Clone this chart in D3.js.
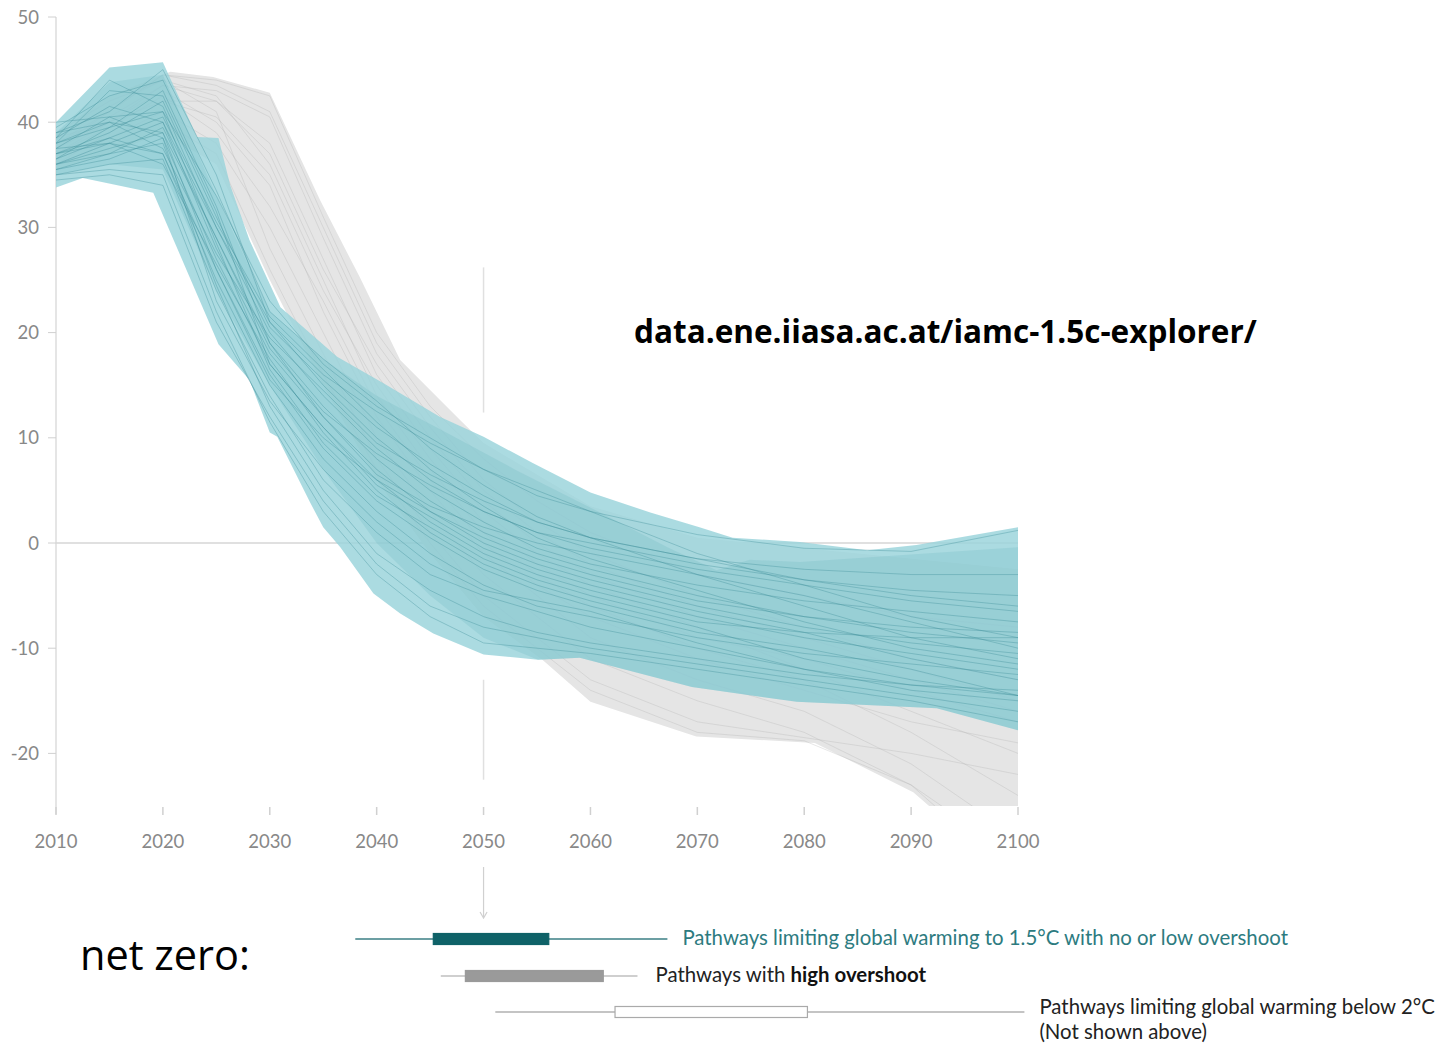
<!DOCTYPE html>
<html>
<head>
<meta charset="utf-8">
<script src="https://cdn.jsdelivr.net/npm/d3@7"></script>
<style>
  body { margin: 0; background: #fff; }
  svg { display: block; }
</style>
</head>
<body>
<svg id="chart" width="1439" height="1045"></svg>
<script>
// Net CO2 emissions pathways (GtCO2/yr), 2010-2100
const years = [2010, 2015, 2020, 2025, 2030, 2035, 2040, 2045, 2050, 2055, 2060, 2070, 2080, 2090, 2100];
const xTicks = [2010, 2020, 2030, 2040, 2050, 2060, 2070, 2080, 2090, 2100];
const yTicks = [-20, -10, 0, 10, 20, 30, 40, 50];

// Range of pathways limiting warming to 1.5°C with no or low overshoot
const tealUpper = [[2010,40.0],[2015,45.2],[2020,45.7],[2023.2,38.6],[2025.2,38.5],[2026.3,34.0],[2028.1,28.8],[2031,22.4],[2036.3,17.7],[2040.6,15.2],[2045.9,12.0],[2050,10.1],[2054.6,7.6],[2060,4.8],[2065.6,2.9],[2070.2,1.5],[2073.3,0.5],[2079.6,0.1],[2085.9,-0.7],[2090.5,-0.2],[2100,1.5]];
const tealLower = [[2010,33.8],[2012.5,34.7],[2019.1,33.3],[2025.2,18.9],[2028.1,15.5],[2030,10.5],[2030.7,10.1],[2033.8,3.8],[2035,1.5],[2036.6,-0.4],[2039.7,-4.8],[2042.2,-6.7],[2045.3,-8.6],[2050,-10.6],[2055.1,-11.1],[2059,-10.9],[2069.5,-13.7],[2079.3,-15.1],[2092.4,-15.7],[2100,-17.8]];
const tealCoreUpper = [[2010,39.0],[2015,43.8],[2020,44.5],[2025,33.0],[2030,22.0],[2035,17.5],[2040,14.0],[2046.9,10.3],[2053.1,6.9],[2060.9,2.9],[2067.2,-0.4],[2071.8,-2.6],[2074.9,-1.6],[2079.6,-1.8],[2100,-0.4]];
const tealCoreLower = [[2010,35.0],[2015,36.0],[2020,35.5],[2025,24.0],[2030,15.0],[2035,7.0],[2040,0.0],[2045,-5.0],[2050,-9.0],[2055.1,-11.1],[2059,-10.9],[2069.5,-13.7],[2079.3,-15.1],[2092.4,-15.7],[2100,-17.8]];

// Range of pathways with high overshoot
const greyUpper = [[2010,39.0],[2015,42.5],[2020.7,44.8],[2024.7,44.3],[2030,42.8],[2034.7,32.6],[2038.4,25.3],[2042.2,17.4],[2047.8,11.7],[2050,9.5],[2060,3.5],[2070,0.5],[2080,-0.5],[2090,-1.5],[2100,-2.5]];
const greyLower = [[2010,35.5],[2015,37.0],[2020,39.0],[2025,36.0],[2030,25.0],[2035,15.0],[2040,6.0],[2045,-1.0],[2050,-7.0],[2055.5,-11.1],[2060,-15.1],[2069.9,-18.4],[2081,-19.0],[2090.2,-23.7],[2091.8,-25.1],[2100,-33.0]];

// Individual pathways, values at each entry of `years`
const tealPathways = [
  [40.0, 40.5, 41.0, 33.0, 23.0, 17.0, 13.0, 10.0, 7.0, 4.5, 3.0, 0.8, -0.5, -0.8, 1.2],
  [38.5, 44.0, 41.5, 30.0, 20.0, 14.0, 9.0, 5.0, 2.0, -0.5, -2.0, -4.0, -5.5, -6.5, -7.5],
  [37.0, 38.0, 40.0, 28.0, 18.0, 12.0, 7.0, 3.0, 0.0, -2.0, -3.5, -6.0, -8.0, -9.5, -10.5],
  [36.0, 37.5, 39.0, 26.0, 16.0, 9.0, 4.0, 0.5, -2.5, -4.5, -6.0, -8.5, -10.0, -12.0, -14.5],
  [35.0, 36.0, 36.5, 24.0, 14.0, 6.0, 1.0, -3.0, -5.0, -6.5, -8.0, -10.0, -12.0, -13.5, -14.5],
  [34.5, 35.0, 34.0, 21.0, 12.0, 4.0, -2.0, -6.0, -8.0, -9.0, -10.0, -11.5, -13.0, -14.5, -16.0],
  [39.0, 41.0, 45.0, 35.0, 21.0, 15.0, 10.0, 6.0, 3.0, 1.0, 0.0, -2.0, -3.5, -4.5, -5.0],
  [38.0, 39.5, 43.0, 32.0, 19.0, 13.0, 8.0, 4.0, 1.0, -1.0, -2.5, -5.0, -7.0, -8.5, -9.5],
  [37.5, 40.5, 38.5, 27.0, 17.0, 11.0, 6.0, 2.0, -1.0, -3.0, -4.5, -7.0, -9.0, -10.5, -12.0],
  [36.5, 38.5, 37.0, 25.0, 15.0, 8.0, 3.0, -1.0, -4.0, -6.0, -7.0, -9.0, -10.5, -11.5, -12.5],
  [35.5, 37.0, 39.5, 29.0, 18.5, 12.5, 8.5, 5.5, 3.0, 1.0, -0.5, -2.5, -4.0, -5.5, -6.5],
  [37.0, 39.0, 42.0, 31.0, 20.5, 15.5, 11.0, 7.5, 4.5, 2.0, 0.5, -1.5, -2.5, -3.0, -3.0],
  [38.5, 41.5, 40.0, 30.0, 21.0, 16.0, 12.5, 9.5, 7.0, 5.0, 3.0, -1.0, -4.0, -7.0, -9.0],
  [36.0, 37.0, 38.0, 24.5, 13.0, 5.0, -1.0, -4.5, -7.0, -8.5, -9.5, -11.0, -12.5, -13.5, -14.0],
  [35.0, 35.5, 35.0, 22.0, 11.5, 3.0, -3.0, -7.0, -9.5, -10.0, -10.5, -12.0, -13.5, -15.0, -17.0],
  [39.5, 42.5, 44.0, 33.5, 22.0, 17.5, 13.5, 9.0, 5.5, 2.5, 0.5, -3.0, -6.0, -9.0, -11.0],
  [37.5, 38.0, 36.0, 26.5, 17.5, 10.5, 5.0, 1.0, -2.0, -4.0, -5.5, -8.0, -11.0, -13.0, -14.5],
  [36.5, 39.5, 41.0, 28.5, 16.5, 9.5, 4.5, 1.5, -1.5, -3.5, -5.0, -7.5, -8.5, -9.0, -9.0],
  [38.0, 40.0, 37.5, 27.5, 19.5, 14.5, 9.5, 6.5, 4.0, 2.0, 0.5, -1.5, -3.5, -5.0, -6.0],
  [35.5, 36.5, 38.5, 23.0, 13.5, 7.0, 2.0, -2.0, -4.5, -5.5, -6.5, -9.5, -12.0, -14.0, -15.0],
  [37.0, 38.5, 40.5, 30.5, 21.5, 16.5, 11.5, 7.0, 3.5, 0.5, -1.5, -4.5, -7.5, -10.0, -11.5],
  [39.0, 40.0, 39.0, 29.0, 19.0, 12.0, 6.5, 3.5, 1.5, 0.0, -1.0, -3.0, -5.0, -7.5, -10.0],
  [36.0, 38.0, 37.0, 26.0, 15.5, 10.0, 6.0, 3.0, 0.5, -1.5, -3.0, -5.5, -7.0, -8.0, -8.5],
  [38.0, 43.0, 42.5, 31.5, 17.0, 11.0, 5.5, 2.5, -0.5, -2.5, -4.0, -6.5, -8.5, -11.0, -13.0]
];
const greyPathways = [
  [38.0, 41.0, 44.5, 44.0, 42.5, 31.0, 20.0, 13.0, 8.0, 4.0, 1.0, -3.0, -5.0, -7.0, -8.0],
  [37.0, 40.0, 43.5, 43.0, 40.5, 29.0, 18.0, 11.0, 5.0, 1.0, -2.0, -6.0, -9.0, -12.0, -15.0],
  [36.0, 39.0, 42.0, 42.0, 38.0, 27.0, 16.0, 9.0, 3.0, -1.0, -4.0, -8.0, -12.0, -16.0, -20.0],
  [38.5, 41.5, 44.0, 42.5, 36.0, 25.0, 14.0, 7.0, 1.0, -3.0, -6.0, -10.0, -13.0, -18.0, -24.0],
  [37.5, 40.0, 43.0, 40.0, 34.0, 22.0, 12.0, 5.0, -1.0, -5.0, -9.0, -13.0, -16.0, -21.0, -28.0],
  [36.5, 38.5, 41.0, 38.0, 30.0, 20.0, 10.0, 3.0, -3.0, -7.0, -11.0, -15.0, -18.0, -23.0, -30.0],
  [39.0, 42.0, 44.0, 41.0, 28.0, 18.0, 8.0, 1.0, -5.0, -9.0, -13.0, -17.0, -18.5, -20.0, -22.0],
  [37.0, 39.5, 42.5, 39.0, 32.0, 23.0, 13.0, 6.0, 0.0, -4.0, -7.0, -11.0, -14.0, -17.0, -19.0],
  [38.0, 40.5, 43.5, 42.0, 37.0, 26.0, 17.0, 10.0, 4.0, 0.0, -3.0, -7.0, -10.0, -13.0, -16.0],
  [36.0, 38.0, 40.0, 37.0, 26.0, 16.0, 7.0, 0.0, -6.0, -10.0, -14.0, -18.0, -18.8, -23.0, -32.0],
  [37.5, 41.0, 44.5, 43.5, 41.0, 30.0, 19.0, 12.0, 6.0, 2.0, -1.0, -5.0, -8.0, -11.0, -13.0],
  [38.5, 40.0, 42.0, 40.5, 35.0, 24.0, 15.0, 8.0, 2.0, -2.0, -5.0, -9.0, -11.0, -14.0, -17.0]
];

// Net-zero year distributions: [low whisker, lower quartile, upper quartile, high whisker]
const netZeroLabels = [
  "Pathways limiting global warming to 1.5°C with no or low overshoot",
  "Pathways with high overshoot",
  "Pathways limiting global warming below 2°C"
];
const netZeroNote = "(Not shown above)";
const netZeroStats = [
  [2038.0, 2045.3, 2056.1, 2067.2],
  [2046.0, 2048.3, 2061.2, 2064.4],
  [2051.1, 2062.3, 2080.3, 2100.6]
];
const guideYear = 2050;
const guideSpans = [[26.2, 12.4], [-13.0, -22.5]];

const svg = d3.select("#chart");
const x = d3.scaleLinear().domain([2010, 2100]).range([56, 1018]);
const y = d3.scaleLinear().domain([-25, 50]).range([806, 17]);

const tickFont = "Lato, 'Source Sans Pro', 'Noto Sans', sans-serif";

svg.append("defs").append("clipPath").attr("id", "plot-clip")
  .append("rect")
  .attr("x", x(2010)).attr("y", y(50))
  .attr("width", x(2100) - x(2010)).attr("height", y(-25) - y(50));

// Axes
const yAxis = svg.append("g").attr("class", "y-axis");
yAxis.append("line")
  .attr("x1", x(2010)).attr("x2", x(2010))
  .attr("y1", y(50)).attr("y2", y(-25) + 8)
  .attr("stroke", "#dcdcdc").attr("stroke-width", 1.5);
yAxis.selectAll("line.tick").data(yTicks).join("line")
  .attr("class", "tick")
  .attr("x1", x(2010) - 8).attr("x2", x(2010))
  .attr("y1", d => y(d)).attr("y2", d => y(d))
  .attr("stroke", "#d0d0d0").attr("stroke-width", 1);
yAxis.selectAll("text").data(yTicks).join("text")
  .attr("x", x(2010) - 17).attr("y", d => y(d))
  .attr("dy", "0.36em")
  .attr("text-anchor", "end")
  .attr("font-family", tickFont).attr("font-size", 18.5)
  .attr("fill", "#888")
  .text(d => d);

const xAxis = svg.append("g").attr("class", "x-axis");
xAxis.selectAll("line").data(xTicks).join("line")
  .attr("x1", d => x(d)).attr("x2", d => x(d))
  .attr("y1", y(-25) + 1).attr("y2", y(-25) + 9)
  .attr("stroke", "#d0d0d0").attr("stroke-width", 1.5);
xAxis.selectAll("text").data(xTicks).join("text")
  .attr("x", d => x(d)).attr("y", y(-25) + 42)
  .attr("text-anchor", "middle")
  .attr("font-family", tickFont).attr("font-size", 18.5)
  .attr("fill", "#888")
  .text(d => d);

// Zero line and 2050 guide
svg.append("line")
  .attr("x1", x(2010)).attr("x2", x(2100))
  .attr("y1", y(0)).attr("y2", y(0))
  .attr("stroke", "#d6d6d6").attr("stroke-width", 1.5);
svg.append("g").selectAll("line").data(guideSpans).join("line")
  .attr("x1", x(guideYear)).attr("x2", x(guideYear))
  .attr("y1", d => y(d[0])).attr("y2", d => y(d[1]))
  .attr("stroke", "#e0e0e0").attr("stroke-width", 1.5);

// Bands and pathways
const line = d3.line().x(d => x(d[0])).y(d => y(d[1]));
const band = (upper, lower) => line(upper.concat(lower.slice().reverse())) + "Z";
const toPoints = vals => vals.map((v, i) => [years[i], v]);

const plot = svg.append("g").attr("clip-path", "url(#plot-clip)");

plot.append("path").attr("d", band(greyUpper, greyLower))
  .attr("fill", "#e5e5e5");
plot.append("g").selectAll("path").data(greyPathways).join("path")
  .attr("d", d => line(toPoints(d)))
  .attr("fill", "none").attr("stroke", "rgba(175,175,175,0.38)").attr("stroke-width", 0.8);

plot.append("path").attr("d", band(tealUpper, tealLower))
  .attr("fill", "#98d3da").attr("fill-opacity", 0.82);
plot.append("path").attr("d", band(tealCoreUpper, tealCoreLower))
  .attr("fill", "#5fb0ba").attr("fill-opacity", 0.2);
plot.append("g").selectAll("path").data(tealPathways).join("path")
  .attr("d", d => line(toPoints(d)))
  .attr("fill", "none").attr("stroke", "rgba(60,140,150,0.4)").attr("stroke-width", 0.9);

// Source note
svg.append("text")
  .attr("x", 634).attr("y", 343)
  .attr("font-family", "'Open Sans', 'Noto Sans', sans-serif")
  .attr("font-weight", 700).attr("font-size", 31.5)
  .attr("fill", "#000")
  .text("data.ene.iiasa.ac.at/iamc-1.5c-explorer/");

// Arrow from 2050 down to the net-zero summary
const arrowX = x(guideYear);
svg.append("line")
  .attr("x1", arrowX).attr("x2", arrowX).attr("y1", 867).attr("y2", 917)
  .attr("stroke", "#d0d0d0").attr("stroke-width", 1.2);
svg.append("path")
  .attr("d", `M${arrowX - 3.5},${912} L${arrowX},${918} L${arrowX + 3.5},${912}`)
  .attr("fill", "none").attr("stroke", "#d0d0d0").attr("stroke-width", 1.2);

svg.append("text")
  .attr("x", 80).attr("y", 970)
  .attr("font-family", "'Open Sans', 'Noto Sans', sans-serif")
  .attr("font-size", 41.5).attr("fill", "#000")
  .text("net zero:");

// Net-zero year box plots
const rowY = [939, 976, 1012];
const rowStyle = [
  { whisker: "#3b7f84", whiskerWidth: 1.6, box: "#0f6268", boxStroke: "#0f6268", text: "#2d7b7f" },
  { whisker: "#cfcfcf", whiskerWidth: 2.2, box: "#9a9a9a", boxStroke: "#9a9a9a", text: "#222" },
  { whisker: "#8a8a8a", whiskerWidth: 1.2, box: "#ffffff", boxStroke: "#aaaaaa", text: "#222" }
];
const legendFont = "Lato, 'Source Sans Pro', 'Noto Sans', sans-serif";
const legendSize = 20.4;
const rows = svg.append("g").selectAll("g").data(netZeroStats).join("g");
rows.append("line")
  .attr("x1", d => x(d[0])).attr("x2", d => x(d[3]))
  .attr("y1", (d, i) => rowY[i]).attr("y2", (d, i) => rowY[i])
  .attr("stroke", (d, i) => rowStyle[i].whisker)
  .attr("stroke-width", (d, i) => rowStyle[i].whiskerWidth);
rows.append("rect")
  .attr("x", d => x(d[1])).attr("width", d => x(d[2]) - x(d[1]))
  .attr("y", (d, i) => rowY[i] - 5.5).attr("height", 11)
  .attr("fill", (d, i) => rowStyle[i].box)
  .attr("stroke", (d, i) => rowStyle[i].boxStroke).attr("stroke-width", 1.2);

rows.each(function (d, i) {
  const t = d3.select(this).append("text")
    .attr("x", x(d[3]) + (i === 1 ? 18 : 15))
    .attr("y", rowY[i] + (i === 2 ? 2 : 6))
    .attr("font-family", legendFont).attr("font-size", legendSize)
    .attr("fill", rowStyle[i].text);
  if (i === 1) {
    t.append("tspan").text("Pathways with ");
    t.append("tspan").attr("font-weight", 700).attr("fill", "#111").text("high overshoot");
  } else {
    t.text(netZeroLabels[i]);
  }
  if (i === 2) {
    d3.select(this).append("text")
      .attr("x", x(d[3]) + 15).attr("y", rowY[i] + 27)
      .attr("font-family", legendFont).attr("font-size", legendSize)
      .attr("fill", rowStyle[i].text)
      .text(netZeroNote);
  }
});
</script>
</body>
</html>
